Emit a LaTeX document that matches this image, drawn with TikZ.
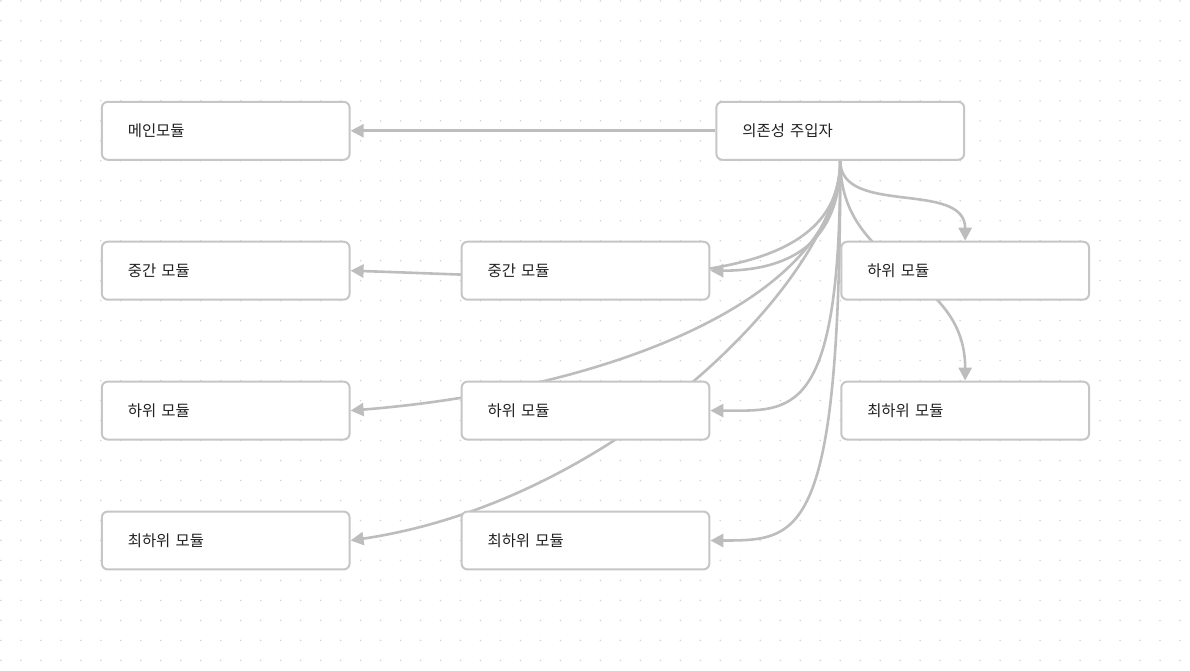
\documentclass[tikz,border=0pt]{standalone}
\usepackage{fontspec}
\setmainfont{Noto Sans CJK KR}
\usetikzlibrary{arrows.meta}
\definecolor{edgegray}{HTML}{BDBDBD}
\definecolor{boxgray}{HTML}{C6C6C6}
\definecolor{dotgray}{HTML}{D4D4D4}
\definecolor{textgray}{HTML}{222222}
\pgfdeclarelayer{paper}
\pgfdeclarelayer{wires}
\pgfsetlayers{paper,wires,main}
\tikzset{
  modbox/.style={draw=boxgray, line width=0.04cm, fill=white, rounded corners=0.12cm,
    minimum height=1.16cm, text width=3.92cm, inner xsep=0.52cm, align=left,
    font=\fontsize{8.8}{10}\selectfont, text=textgray},
  dep/.style={draw=edgegray, line width=0.052cm, -{Triangle[length=0.26cm,width=0.26cm]}}
}
\begin{document}
\begin{tikzpicture}[x=0.02cm, y=-0.02cm]

\begin{pgfonlayer}{paper}
\fill[white] (0,0) rectangle (1190,670);
\foreach \x in {0,20,...,1180}
  \foreach \y in {0,20,...,660}
    \fill[dotgray] (\x,\y) circle (0.5pt);
\end{pgfonlayer}
\useasboundingbox (0,0) rectangle (1190,670);

\node[modbox] (main) at (225,130) {메인모듈};
\node[modbox] (injector) at (840,130) {의존성 주입자};

\node[modbox] (midL) at (225,270) {중간 모듈};
\node[modbox] (midC) at (585,270) {중간 모듈};
\node[modbox] (lowR) at (965,270) {하위 모듈};

\node[modbox] (lowL) at (225,410) {하위 모듈};
\node[modbox] (lowC) at (585,410) {하위 모듈};
\node[modbox] (leafR) at (965,410) {최하위 모듈};

\node[modbox] (leafL) at (225,540) {최하위 모듈};
\node[modbox] (leafC) at (585,540) {최하위 모듈};

\begin{pgfonlayer}{wires}
\draw[dep] (injector.west) -- (main.east);
\draw[dep] (injector.south) .. controls +(0,81) and +(81,0) .. (midC.east);
\draw[dep] (injector.south) .. controls +(0,140) and +(251,8) .. (midL.east);
\draw[dep] (injector.south) .. controls +(0,56) and +(0,-61) .. (lowR.north);
\draw[dep] (injector.south) .. controls +(0,111) and +(0,-111) .. (leafR.north);
\draw[dep] (injector.south) .. controls +(0,261) and +(81,0) .. (lowC.east);
\draw[dep] (injector.south) .. controls +(0,141) and +(251,-20) .. (lowL.east);
\draw[dep] (injector.south) .. controls +(0,380) and +(90,0) .. (leafC.east);
\draw[dep] (injector.south) .. controls +(0,111) and +(271,-40) .. (leafL.east);
\end{pgfonlayer}

\end{tikzpicture}
\end{document}
